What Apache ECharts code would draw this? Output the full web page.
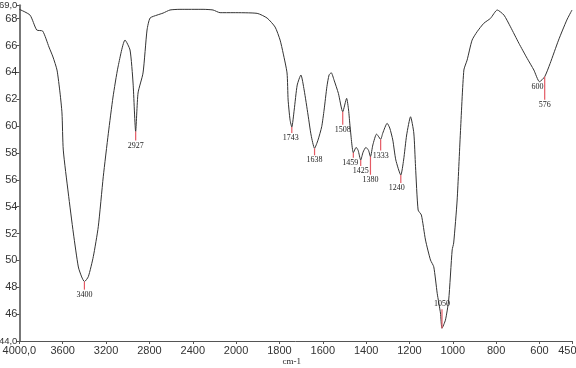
<!DOCTYPE html>
<html>
<head>
<meta charset="utf-8">
<script src="https://cdn.jsdelivr.net/npm/echarts@6/dist/echarts.min.js"></script>
<style>
  html, body { margin: 0; padding: 0; background: #fff; }
  #chart { width: 576px; height: 368px; }
</style>
</head>
<body>
<div id="chart"></div>
<script>
// IR spectrum, wavenumber (cm-1) vs transmittance
const waveNumbers = [4000, 3902, 3840, 3785, 3727, 3690, 3653, 3625, 3607, 3595, 3549, 3502, 3456, 3425, 3400, 3364, 3318, 3272, 3226, 3179,
  3136, 3090, 3025, 2979, 2951, 2927, 2905, 2859, 2822, 2794, 2730, 2674, 2610, 2518, 2305, 2213, 2148, 2028, 1903, 1857,
  1820, 1797, 1783, 1765, 1760, 1751, 1743, 1732, 1718, 1701, 1686, 1668, 1654, 1638, 1622, 1605, 1594, 1581, 1571, 1561,
  1548, 1528, 1508, 1490, 1481, 1474, 1459, 1446, 1437, 1425, 1414, 1401, 1389, 1380, 1369, 1352, 1344, 1333, 1323, 1303,
  1291, 1277, 1263, 1240, 1227, 1213, 1195, 1180, 1172, 1160, 1145, 1126, 1103, 1088, 1072, 1057, 1050, 1034, 1019, 1003,
  996, 980, 965, 949, 934, 911, 888, 857, 826, 795, 764, 734, 695, 657, 626, 600, 576, 551, 512, 474, 450]
const transmittance = [68.70, 68.27, 67.16, 67.08, 65.89, 65.15, 64.18, 62.47, 60.98, 58.22, 55.02, 52.04, 49.51, 48.77, 48.42, 48.79, 50.28, 52.51, 56.23, 59.47,
  62.17, 64.40, 66.41, 65.67, 63.21, 59.60, 62.47, 63.96, 67.16, 68.05, 68.27, 68.42, 68.65, 68.70, 68.70, 68.65, 68.45, 68.45, 68.40, 68.05,
  67.38, 66.41, 65.44, 63.96, 61.95, 60.46, 59.93, 61.20, 63.06, 63.81, 62.69, 60.83, 59.34, 58.35, 58.97, 59.96, 61.20, 62.94, 63.81, 63.98,
  63.43, 62.44, 61.07, 62.07, 61.20, 59.96, 58.02, 58.42, 58.20, 57.48, 58.07, 58.42, 58.20, 57.72, 58.60, 59.41, 59.26, 59.01, 59.49, 60.21,
  59.86, 58.97, 57.48, 56.36, 57.48, 59.34, 60.70, 59.49, 56.98, 53.75, 53.38, 51.52, 50.03, 49.53, 47.55, 46.08, 44.95, 45.56, 47.05, 50.78,
  51.30, 54.50, 59.49, 64.18, 64.92, 66.41, 67.03, 67.66, 68.03, 68.65, 68.27, 67.40, 66.17, 65.05, 64.18, 63.31, 63.68, 64.67, 66.41, 67.90, 68.65]

// labelled peaks
const peakWaves = [3400, 2927, 1743, 1638, 1508, 1459, 1425, 1380, 1333, 1240, 1050, 600, 576]
const peakValues = [48.42, 59.60, 59.93, 58.35, 61.07, 58.02, 57.48, 57.72, 59.01, 56.36, 44.95, 63.31, 63.68]

const xTicks = [4000, 3600, 3200, 2800, 2400, 2000, 1800, 1600, 1400, 1200, 1000, 800, 600, 450]
const yTicks = [44, 46, 48, 50, 52, 54, 56, 58, 60, 62, 64, 66, 68, 69]

// marker length (px, negative = upward) and label shift for each peak
const peakDrops = [8, 9, 6, 7, 13, 5, 6, 18, 11, 8, -19, 0, 23]
const peakDx = [0, 0, -1, 0, 0, -3, 0, 0, 0, -4, 0, -2, 0]

// axis is compressed 2:1 above 2000 cm-1
function pos(w) {
  return w <= 2000 ? w : 2000 + (w - 2000) / 2
}
function unpos(p) {
  return p <= 2000 ? p : 2000 + (p - 2000) * 2
}

const spectrum = waveNumbers.map((w, i) => [pos(w), transmittance[i]])
const peaks = peakWaves.map((w, i) => [pos(w), peakValues[i]])

const chart = echarts.init(document.getElementById('chart'), null, { renderer: 'canvas' })

const labelFont = 'Liberation Sans'

chart.setOption({
  animation: false,
  grid: {
    left: 19.4,
    right: 4,
    top: 5.3,
    bottom: 27,
    containLabel: false,
    outerBoundsMode: 'none'
  },
  xAxis: {
    type: 'value',
    min: 450,
    max: 3000,
    inverse: true,
    name: 'cm-1',
    nameLocation: 'middle',
    nameGap: 16,
    nameMoveOverlap: false,
    nameTextStyle: {
      fontFamily: 'Liberation Serif',
      fontSize: 9,
      color: '#222',
      padding: [0, 8, 0, 0]
    },
    splitLine: { show: false },
    axisLine: { lineStyle: { color: '#555', width: 1 } },
    axisTick: {
      length: 3,
      lineStyle: { color: '#555' },
      customValues: xTicks.map(pos)
    },
    axisLabel: {
      customValues: xTicks.map(pos),
      margin: 4,
      fontFamily: labelFont,
      fontSize: 11,
      color: '#333',
      hideOverlap: false,
      formatter: function(p) {
        const w = Math.round(unpos(p))
        return (w === 4000 || w === 450) ? w + ',0' : String(w)
      }
    }
  },
  yAxis: {
    type: 'value',
    min: 44,
    max: 69,
    splitLine: { show: false },
    axisLine: { show: true, lineStyle: { color: '#777', width: 2 } },
    axisTick: {
      show: true,
      length: 3,
      lineStyle: { color: '#555' },
      customValues: yTicks
    },
    axisLabel: {
      customValues: yTicks,
      margin: 2,
      fontFamily: labelFont,
      fontSize: 11,
      color: '#333',
      formatter: function(v) {
        return (v === 44 || v === 69) ? '{e|' + v + ',0}' : String(v)
      },
      rich: {
        e: { fontFamily: labelFont, fontSize: 9.5, color: '#333' }
      }
    }
  },
  series: [{
    type: 'line',
    data: spectrum,
    showSymbol: false,
    smooth: 0.2,
    lineStyle: { color: '#333', width: 1 },
    z: 3
  }, {
    type: 'custom',
    data: peaks,
    z: 4,
    renderItem: function(params, api) {
      const i = params.dataIndex
      const p = api.coord([api.value(0), api.value(1)])
      const drop = peakDrops[i]
      const end = p[1] + drop
      const children = []
      if (drop !== 0) {
        children.push({
          type: 'line',
          shape: { x1: p[0], y1: p[1], x2: p[0], y2: end },
          style: { stroke: '#e45a64', lineWidth: 1.2 }
        })
      }
      children.push({
        type: 'text',
        style: {
          text: String(peakWaves[i]),
          x: p[0] + peakDx[i],
          y: drop < 0 ? end - 1 : end + 1,
          align: 'center',
          verticalAlign: drop < 0 ? 'bottom' : 'top',
          font: '8px "Liberation Serif"',
          fill: '#222'
        }
      })
      return { type: 'group', children: children }
    }
  }]
})
</script>
</body>
</html>
